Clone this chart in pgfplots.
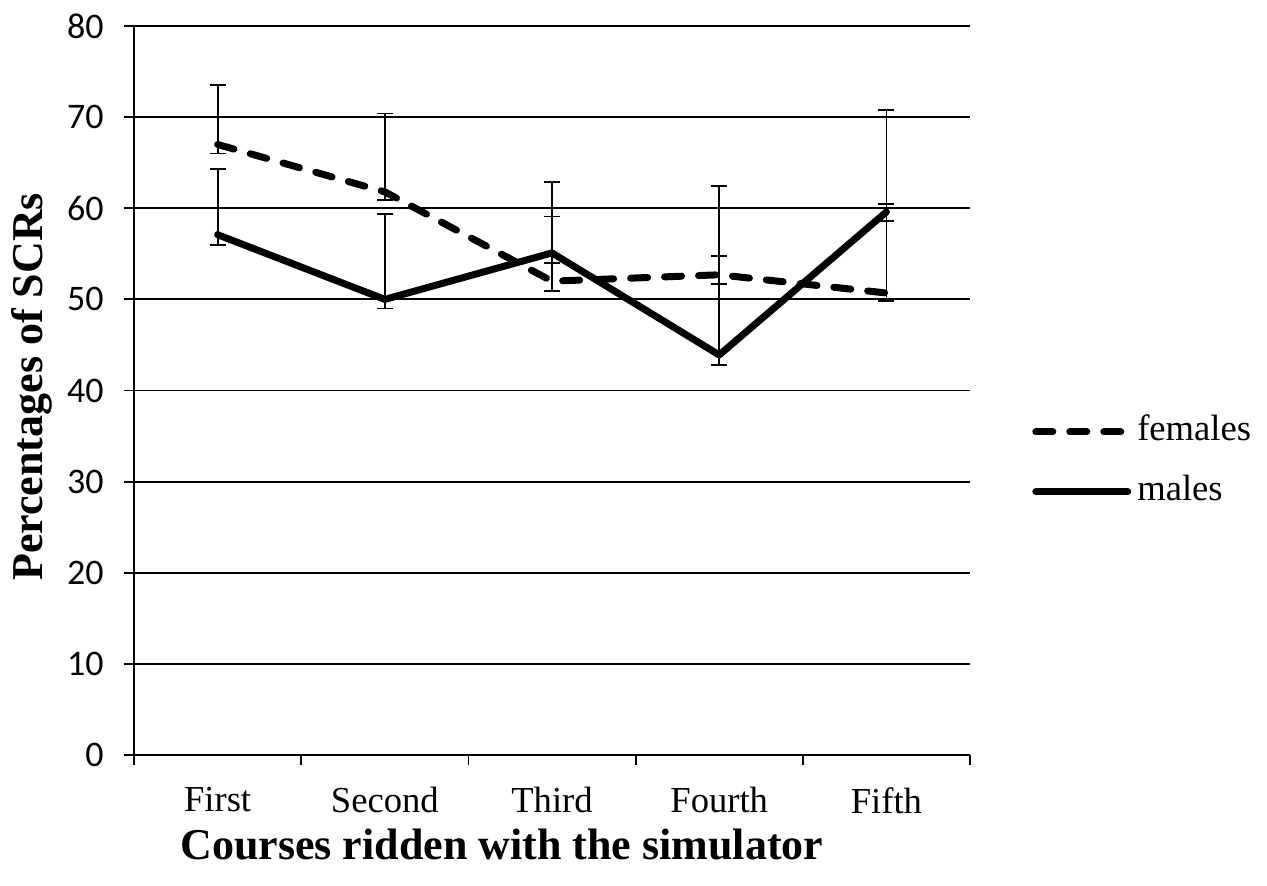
\documentclass[border=0pt]{standalone}
\usepackage{pgfplots}
\pgfplotsset{compat=1.18}
\usepackage{fontspec}
\setmainfont{Liberation Serif}
\newfontfamily\calib{Carlito}
\pgfplotsset{myerr/.style={error bars/.cd, y dir=both, y explicit,
  error bar style={solid, line width=0.9pt, line cap=butt, black},
  error mark options={rotate=90, mark size=4pt, line width=0.9pt, solid, black}}}
\begin{document}
\begin{tikzpicture}
\useasboundingbox (0,0) rectangle (633.5pt,442.5pt);
\begin{axis}[
  at={(67pt,65pt)}, anchor=south west,
  scale only axis, width=418pt, height=364.5pt,
  xmin=-0.5, xmax=4.5, ymin=0, ymax=80,
  axis x line=bottom, axis y line=left,
  axis line style={-, line width=0.9pt},
  tick align=outside,
  major tick length=5pt,
  every tick/.style={black, line width=0.9pt},
  xtick={0,1,2,3,4},
  xticklabels={First,Second,Third,Fourth,Fifth},
  xtick style={draw=none},
  extra x ticks={-0.5,0.5,1.5,2.5,3.5,4.5},
  extra x tick labels={},
  extra x tick style={grid=none, xtick style={draw=black}},
  ytick={0,10,...,80},
  ymajorgrids,
  grid style={black, line width=0.9pt},
  /pgf/number format/assume math mode=true,
  yticklabel style={font=\calib\fontsize{18}{18}\selectfont, inner sep=0pt, xshift=-10pt},
  xticklabel style={font=\fontsize{18.3}{18}\selectfont, inner sep=0pt, yshift=-11pt},
  every axis x label/.style={at={(axis description cs:0.44,-0.123)}, anchor=center},
  every axis y label/.style={at={(axis description cs:-0.122,0.505)}, rotate=90, anchor=center},
  xlabel={\fontsize{22}{22}\selectfont\bfseries Courses ridden with the simulator},
  ylabel={\fontsize{22}{22}\selectfont\bfseries Percentages of SCRs},
  legend cell align=left,
  legend style={draw=none, fill=none, at={(1.074,0.402)}, anchor=west, inner sep=0pt,
    font=\fontsize{18.3}{18}\selectfont,
    nodes={inner sep=0pt, text height=13pt, text depth=4pt},
    row sep=13pt,
    /tikz/every odd column/.append style={column sep=3pt}},
  legend image code/.code={\draw[#1] (0pt,0pt) -- (46pt,0pt);},
]
\addplot[black, line width=3.5pt, line cap=round, dash pattern=on 8.5pt off 8.5pt, myerr]
  coordinates {
  (0,67.0) += (0,6.5) -= (0,1.0)
  (1,61.8) += (0,8.6) -= (0,0.9)
  (2,52.0) += (0,7.1) -= (0,1.1)
  (3,52.7) += (0,9.7) -= (0,1.0)
  (4,50.7) += (0,9.8) -= (0,0.9)
  };
\addlegendentry{females}
\addplot[black, line width=3.5pt, line cap=round, line join=round, myerr]
  coordinates {
  (0,57.1) += (0,7.2) -= (0,1.1)
  (1,50.0) += (0,9.4) -= (0,1.0)
  (2,55.1) += (0,7.8) -= (0,1.1)
  (3,43.9) += (0,10.9) -= (0,1.1)
  (4,59.6) += (0,11.2) -= (0,1.0)
  };
\addlegendentry{males}
\end{axis}
\end{tikzpicture}
\end{document}
